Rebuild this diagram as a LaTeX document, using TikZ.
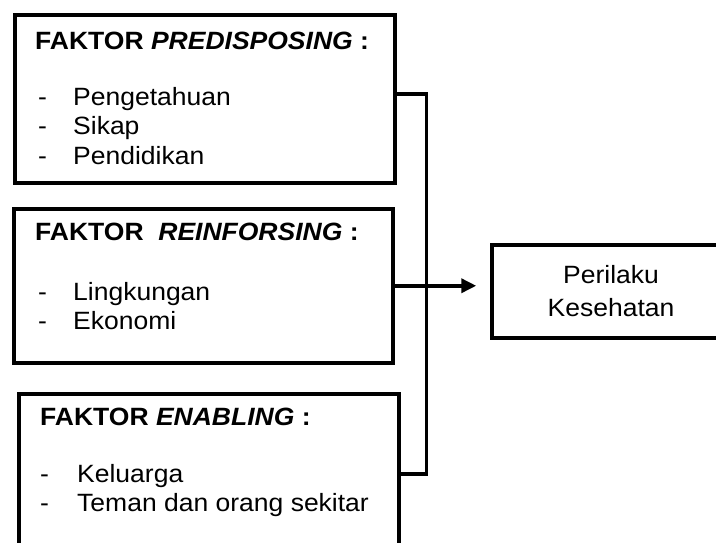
\documentclass[tikz,border=0pt]{standalone}
\usepackage{fontspec}
\setmainfont{Liberation Sans}[FakeStretch=1.06]
\usetikzlibrary{arrows.meta}

\begin{document}
\begin{tikzpicture}[x=1pt, y=-1pt,
    kotak/.style={draw, line width=3.5pt, inner sep=0pt, anchor=north west},
    tulis/.style={inner sep=0pt, anchor=base west, font=\fontsize{25}{29.5}\selectfont},
    garis/.style={line width=3.5pt}]
    \useasboundingbox (0,0) rectangle (716,542);
    \clip (0,0) rectangle (716,542);

    \node[kotak, minimum width=380pt, minimum height=168pt] (pre) at (13,13) {};
    \node[kotak, minimum width=379pt, minimum height=154pt] (rei) at (12,207) {};
    \node[kotak, minimum width=380pt, minimum height=160pt] (ena) at (17,392) {};
    \node[draw, line width=3.5pt, minimum width=238pt, minimum height=93pt, align=center,
        font=\fontsize{25}{33}\selectfont] (hasil) at (611,291.5) {Perilaku\\Kesehatan};

    \node[tulis] (preT) at (35,49.5) {\textbf{FAKTOR \textit{PREDISPOSING} :}};
    \node[tulis] (preD1) at (38,105) {-};
    \node[tulis] (preA) at (73,105) {Pengetahuan};
    \node[tulis] (preD2) at (38,134.5) {-};
    \node[tulis] (preB) at (73,134.5) {Sikap};
    \node[tulis] (preD3) at (38,164) {-};
    \node[tulis] (preC) at (73,164) {Pendidikan};

    \node[tulis] (reiT) at (35,240) {\textbf{FAKTOR \ \textit{REINFORSING} :}};
    \node[tulis] (reiD1) at (38,300) {-};
    \node[tulis] (reiA) at (73,300) {Lingkungan};
    \node[tulis] (reiD2) at (38,329.5) {-};
    \node[tulis] (reiB) at (73,329.5) {Ekonomi};

    \node[tulis] (enaT) at (40,425) {\textbf{FAKTOR \textit{ENABLING} :}};
    \node[tulis] (enaD1) at (40,482) {-};
    \node[tulis] (enaA) at (77,482) {Keluarga};
    \node[tulis] (enaD2) at (40,511.5) {-};
    \node[tulis] (enaB) at (77,511.5) {Teman dan orang sekitar};

    \draw[garis] ([yshift=5pt]pre.east) -- ++(30,0) |- (ena.east);
    \draw[garis, -{Triangle[length=15pt,width=14pt]}, shorten >=14pt] (rei.east) -- (rei.east -| hasil.west);
\end{tikzpicture}
\end{document}
